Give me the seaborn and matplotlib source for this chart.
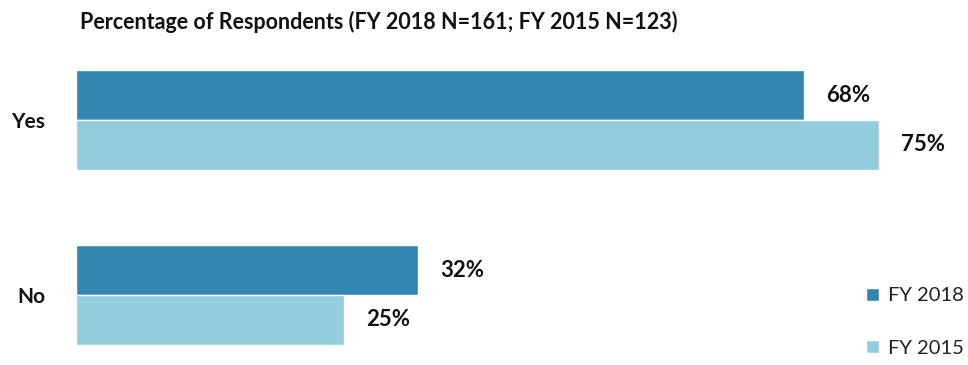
import matplotlib
matplotlib.use("Agg")
import matplotlib.pyplot as plt
import seaborn as sns
import pandas as pd

categories = ["Yes", "No"]
series_names = ["FY 2018", "FY 2015"]
fy2018 = [68, 32]
fy2015 = [75, 25]
title = "Percentage of Respondents (FY 2018 N=161; FY 2015 N=123)"
colors = ["#3386B1", "#93CDDD"]

df = pd.DataFrame({
    "Response": categories * 2,
    "Series": [series_names[0]] * 2 + [series_names[1]] * 2,
    "Value": fy2018 + fy2015,
})

sns.set_theme(style="white")
plt.rcParams["font.family"] = ["Lato", "DejaVu Sans"]

W, H = 968, 365
fig = plt.figure(figsize=(W / 100, H / 100), dpi=100)
ax = fig.add_axes([76 / W, 0, 856 / W, 315 / H])

sns.barplot(data=df, y="Response", x="Value", hue="Series", order=categories,
            hue_order=series_names, palette=colors, width=0.571, orient="h",
            ax=ax, legend=False, saturation=1)

ax.set_xlim(0, 80)
ax.set_ylim(1.4, -0.4)
for c in ax.containers:
    ax.bar_label(c, fmt="%d%%", padding=16, fontsize=16, fontweight="bold", color="#111111")

ax.set_xlabel("")
ax.set_ylabel("")
ax.set_xticks([])
ax.tick_params(axis="y", length=0, pad=22, labelsize=15)
for lbl in ax.get_yticklabels():
    lbl.set_fontweight("bold")
    lbl.set_color("#111111")
for s in ax.spines.values():
    s.set_visible(False)

fig.text(80 / W, 1 - 22 / H, title, fontsize=15.5, fontweight="bold", color="#111111",
         va="center", ha="left")

from matplotlib.patches import Patch
handles = [Patch(facecolor=colors[0]), Patch(facecolor=colors[1])]
fig.legend(handles, series_names, loc="center left", bbox_to_anchor=(848 / W, 1 - 322 / H),
           frameon=False, fontsize=14.5, handlelength=0.65, handleheight=0.65,
           handletextpad=0.45, labelspacing=1.75, labelcolor="#222222")

fig.savefig("out.png", dpi=100)
